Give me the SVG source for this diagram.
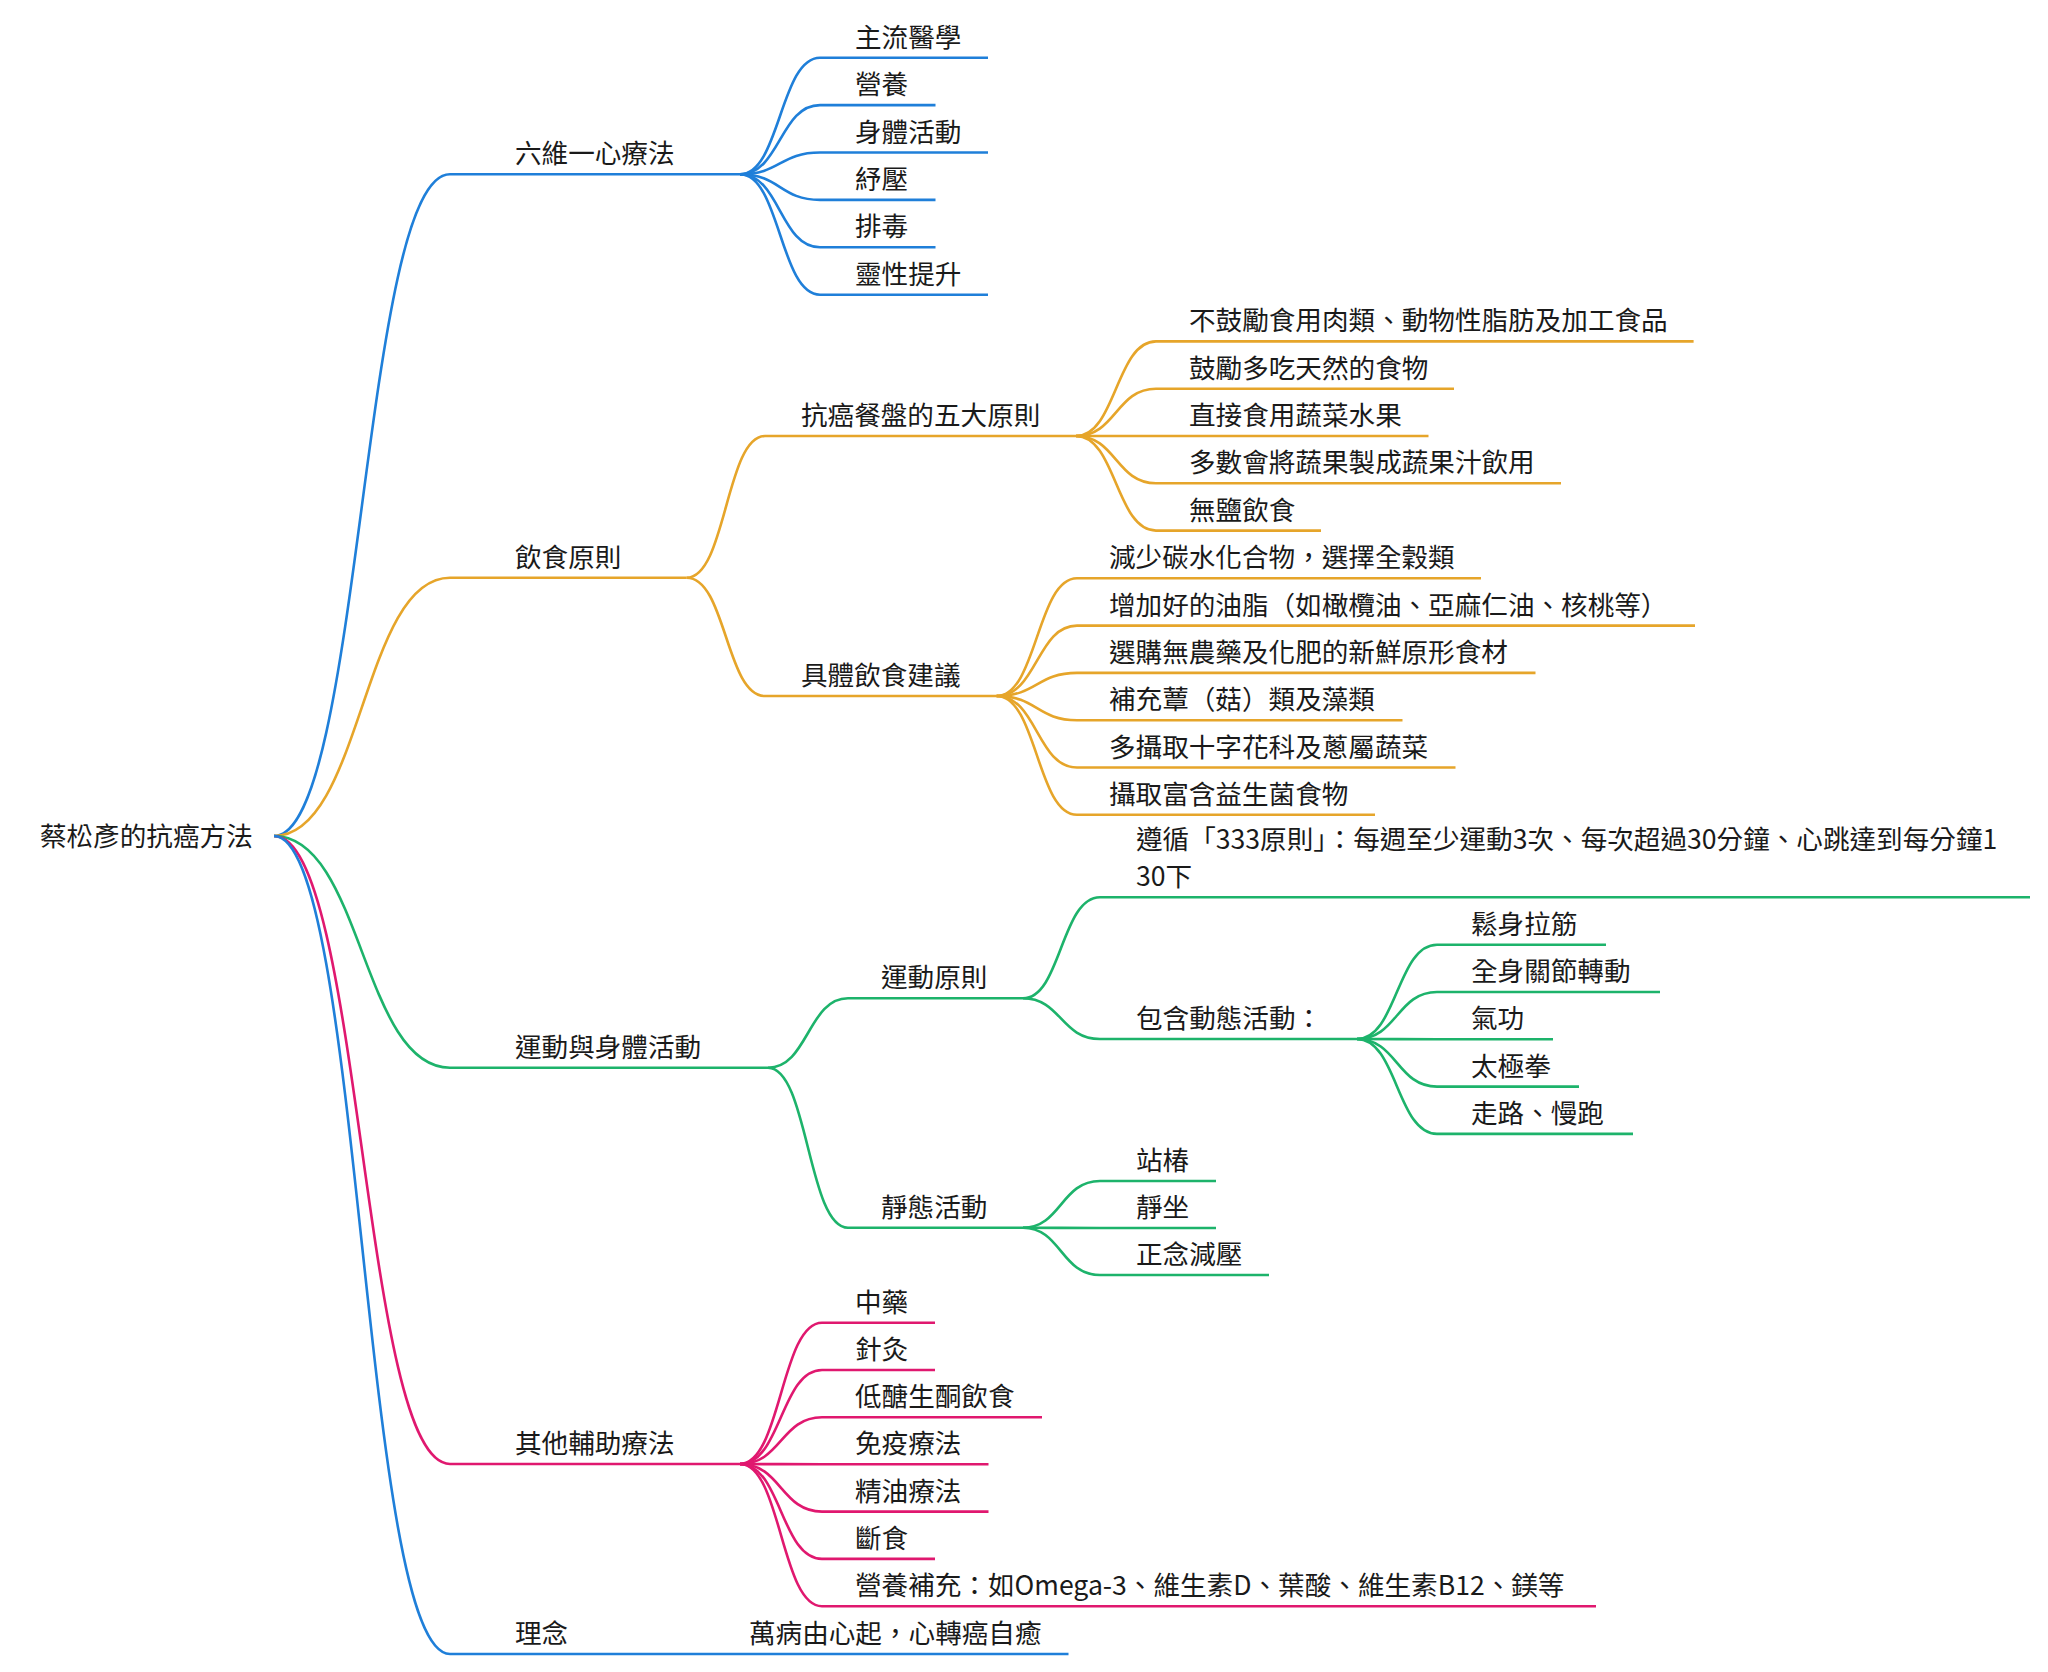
<svg xmlns="http://www.w3.org/2000/svg" width="2048" height="1672" viewBox="0 0 2048 1672">
<style>
text{font-family:"Noto Sans CJK TC","Noto Sans",sans-serif;font-size:26.6px;fill:#1a1a1a}
path{fill:none;stroke-width:2.6}
.b{stroke:#1f7fd9}.o{stroke:#e6a52a}.g{stroke:#1db36b}.p{stroke:#e0186f}
</style>
<rect width="2048" height="1672" fill="#ffffff"/>
<g id="connectors">
<path class="b" d="M274,836 C362,836 362,174.3 450,174.3"/>
<path class="o" d="M274,836 C362,836 362,577.7 450,577.7"/>
<path class="g" d="M274,836 C362,836 362,1067.7 450,1067.7"/>
<path class="p" d="M274,836 C362,836 362,1464 450,1464"/>
<path class="b" d="M274,836 C362,836 362,1654 450,1654"/>
<path class="b" d="M740,174.3 C780,174.3 780,57.7 820,57.7"/>
<path class="b" d="M740,174.3 C780,174.3 780,105.1 820,105.1"/>
<path class="b" d="M740,174.3 C780,174.3 780,152.5 820,152.5"/>
<path class="b" d="M740,174.3 C780,174.3 780,199.9 820,199.9"/>
<path class="b" d="M740,174.3 C780,174.3 780,247.3 820,247.3"/>
<path class="b" d="M740,174.3 C780,174.3 780,294.7 820,294.7"/>
<path class="o" d="M686.7,577.7 C726,577.7 726,436 765,436"/>
<path class="o" d="M686.7,577.7 C726,577.7 726,696 765,696"/>
<path class="o" d="M1076,436 C1116,436 1116,341.4 1156,341.4"/>
<path class="o" d="M1076,436 C1116,436 1116,388.7 1156,388.7"/>
<path class="o" d="M1076,436 C1116,436 1116,436 1156,436"/>
<path class="o" d="M1076,436 C1116,436 1116,483.3 1156,483.3"/>
<path class="o" d="M1076,436 C1116,436 1116,530.6 1156,530.6"/>
<path class="o" d="M996.6,696 C1037,696 1037,578.3 1077,578.3"/>
<path class="o" d="M996.6,696 C1037,696 1037,625.6 1077,625.6"/>
<path class="o" d="M996.6,696 C1037,696 1037,672.9 1077,672.9"/>
<path class="o" d="M996.6,696 C1037,696 1037,720.2 1077,720.2"/>
<path class="o" d="M996.6,696 C1037,696 1037,767.5 1077,767.5"/>
<path class="o" d="M996.6,696 C1037,696 1037,814.8 1077,814.8"/>
<path class="g" d="M768,1067.7 C808,1067.7 808,998.3 848,998.3"/>
<path class="g" d="M768,1067.7 C808,1067.7 808,1227.7 848,1227.7"/>
<path class="g" d="M1023,998.3 C1061,998.3 1061,897.3 1100,897.3"/>
<path class="g" d="M1023,998.3 C1061,998.3 1061,1039 1100,1039"/>
<path class="g" d="M1357,1039 C1397,1039 1397,944.7 1437,944.7"/>
<path class="g" d="M1357,1039 C1397,1039 1397,992 1437,992"/>
<path class="g" d="M1357,1039 C1397,1039 1397,1039.3 1437,1039.3"/>
<path class="g" d="M1357,1039 C1397,1039 1397,1086.6 1437,1086.6"/>
<path class="g" d="M1357,1039 C1397,1039 1397,1133.9 1437,1133.9"/>
<path class="g" d="M1023,1227.7 C1061,1227.7 1061,1181 1100,1181"/>
<path class="g" d="M1023,1227.7 C1061,1227.7 1061,1228 1100,1228"/>
<path class="g" d="M1023,1227.7 C1061,1227.7 1061,1275 1100,1275"/>
<path class="p" d="M740,1464 C781,1464 781,1322.7 822,1322.7"/>
<path class="p" d="M740,1464 C781,1464 781,1370 822,1370"/>
<path class="p" d="M740,1464 C781,1464 781,1417.3 822,1417.3"/>
<path class="p" d="M740,1464 C781,1464 781,1464.3 822,1464.3"/>
<path class="p" d="M740,1464 C781,1464 781,1511.6 822,1511.6"/>
<path class="p" d="M740,1464 C781,1464 781,1558.9 822,1558.9"/>
<path class="p" d="M740,1464 C781,1464 781,1606.2 822,1606.2"/>
<path class="b" d="M636,1654 L716,1654"/>
</g>
<g id="root"><text x="40" y="846">蔡松彥的抗癌方法</text></g>
<g id="n1"><path class="b" d="M450,174.3H740"/><text x="515" y="163.3">六維一心療法</text></g>
<g id="n1-1"><path class="b" d="M820,57.7H988"/><text x="855" y="46.7">主流醫學</text></g>
<g id="n1-2"><path class="b" d="M820,105.1H935.5"/><text x="855" y="94.1">營養</text></g>
<g id="n1-3"><path class="b" d="M820,152.5H988"/><text x="855" y="141.5">身體活動</text></g>
<g id="n1-4"><path class="b" d="M820,199.9H935.5"/><text x="855" y="188.9">紓壓</text></g>
<g id="n1-5"><path class="b" d="M820,247.3H935.5"/><text x="855" y="236.3">排毒</text></g>
<g id="n1-6"><path class="b" d="M820,294.7H988"/><text x="855" y="283.7">靈性提升</text></g>
<g id="n2"><path class="o" d="M450,577.7H686.7"/><text x="515" y="566.7">飲食原則</text></g>
<g id="n2-1"><path class="o" d="M765,436H1076"/><text x="801" y="425">抗癌餐盤的五大原則</text></g>
<g id="n2-1-1"><path class="o" d="M1156,341.4H1693.6"/><text x="1189" y="330.4">不鼓勵食用肉類、動物性脂肪及加工食品</text></g>
<g id="n2-1-2"><path class="o" d="M1156,388.7H1454"/><text x="1189" y="377.7">鼓勵多吃天然的食物</text></g>
<g id="n2-1-3"><path class="o" d="M1156,436H1428.5"/><text x="1189" y="425">直接食用蔬菜水果</text></g>
<g id="n2-1-4"><path class="o" d="M1156,483.3H1561"/><text x="1189" y="472.3">多數會將蔬果製成蔬果汁飲用</text></g>
<g id="n2-1-5"><path class="o" d="M1156,530.6H1321"/><text x="1189" y="519.6">無鹽飲食</text></g>
<g id="n2-2"><path class="o" d="M765,696H996.6"/><text x="801" y="685">具體飲食建議</text></g>
<g id="n2-2-1"><path class="o" d="M1077,578.3H1481"/><text x="1109" y="567.3">減少碳水化合物，選擇全穀類</text></g>
<g id="n2-2-2"><path class="o" d="M1077,625.6H1695"/><text x="1109" y="614.6">增加好的油脂（如橄欖油、亞麻仁油、核桃等）</text></g>
<g id="n2-2-3"><path class="o" d="M1077,672.9H1535.5"/><text x="1109" y="661.9">選購無農藥及化肥的新鮮原形食材</text></g>
<g id="n2-2-4"><path class="o" d="M1077,720.2H1402.5"/><text x="1109" y="709.2">補充蕈（菇）類及藻類</text></g>
<g id="n2-2-5"><path class="o" d="M1077,767.5H1455.5"/><text x="1109" y="756.5">多攝取十字花科及蔥屬蔬菜</text></g>
<g id="n2-2-6"><path class="o" d="M1077,814.8H1375"/><text x="1109" y="803.8">攝取富含益生菌食物</text></g>
<g id="n3"><path class="g" d="M450,1067.7H768"/><text x="515" y="1056.7">運動與身體活動</text></g>
<g id="n3-1"><path class="g" d="M848,998.3H1023"/><text x="881" y="987.3">運動原則</text></g>
<g id="n3-1-1"><path class="g" d="M1100,897.3H2030"/><text x="1136" y="849">遵循「333原則」：每週至少運動3次、每次超過30分鐘、心跳達到每分鐘1</text><text x="1136" y="886">30下</text></g>
<g id="n3-1-2"><path class="g" d="M1100,1039H1357"/><text x="1136" y="1028">包含動態活動：</text></g>
<g id="n3-1-2-1"><path class="g" d="M1437,944.7H1606"/><text x="1471" y="933.7">鬆身拉筋</text></g>
<g id="n3-1-2-2"><path class="g" d="M1437,992H1660"/><text x="1471" y="981">全身關節轉動</text></g>
<g id="n3-1-2-3"><path class="g" d="M1437,1039.3H1553"/><text x="1471" y="1028.3">氣功</text></g>
<g id="n3-1-2-4"><path class="g" d="M1437,1086.6H1579"/><text x="1471" y="1075.6">太極拳</text></g>
<g id="n3-1-2-5"><path class="g" d="M1437,1133.9H1633"/><text x="1471" y="1122.9">走路、慢跑</text></g>
<g id="n3-2"><path class="g" d="M848,1227.7H1023"/><text x="881" y="1216.7">靜態活動</text></g>
<g id="n3-2-1"><path class="g" d="M1100,1181H1216"/><text x="1136" y="1170">站椿</text></g>
<g id="n3-2-2"><path class="g" d="M1100,1228H1216"/><text x="1136" y="1217">靜坐</text></g>
<g id="n3-2-3"><path class="g" d="M1100,1275H1269"/><text x="1136" y="1264">正念減壓</text></g>
<g id="n4"><path class="p" d="M450,1464H740"/><text x="515" y="1453">其他輔助療法</text></g>
<g id="n4-1"><path class="p" d="M822,1322.7H935"/><text x="855" y="1311.7">中藥</text></g>
<g id="n4-2"><path class="p" d="M822,1370H935"/><text x="855" y="1359">針灸</text></g>
<g id="n4-3"><path class="p" d="M822,1417.3H1042"/><text x="855" y="1406.3">低醣生酮飲食</text></g>
<g id="n4-4"><path class="p" d="M822,1464.3H988.5"/><text x="855" y="1453.3">免疫療法</text></g>
<g id="n4-5"><path class="p" d="M822,1511.6H988.5"/><text x="855" y="1500.6">精油療法</text></g>
<g id="n4-6"><path class="p" d="M822,1558.9H935"/><text x="855" y="1547.9">斷食</text></g>
<g id="n4-7"><path class="p" d="M822,1606.2H1596"/><text x="855" y="1595.2">營養補充：如Omega-3、維生素D、葉酸、維生素B12、鎂等</text></g>
<g id="n5"><path class="b" d="M450,1654H636"/><text x="515" y="1643">理念</text></g>
<g id="n5-1"><path class="b" d="M716,1654H1068.5"/><text x="749" y="1643">萬病由心起，心轉癌自癒</text></g>
</svg>
